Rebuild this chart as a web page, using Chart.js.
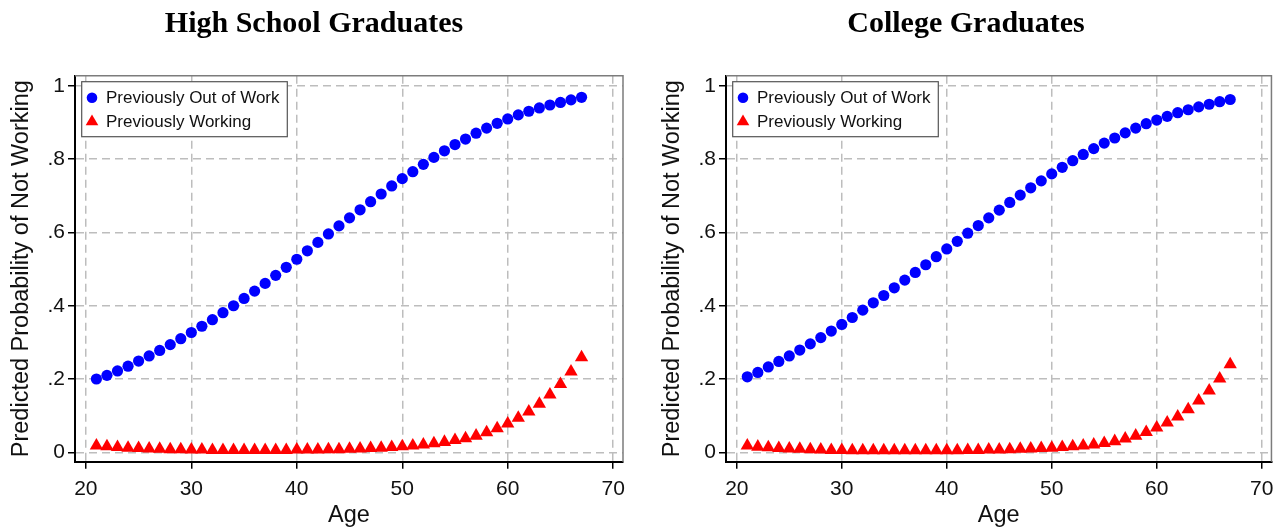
<!DOCTYPE html>
<html>
<head>
<meta charset="utf-8">
<script src="https://cdn.jsdelivr.net/npm/chart.js@4.4.1/dist/chart.umd.min.js"></script>
<style>
  html, body { margin: 0; padding: 0; background: #ffffff; }
  #wrap { position: relative; width: 1281px; height: 527px; overflow: hidden; }
  canvas { position: absolute; top: 0; }
  #hs { left: 0; }
  #col { left: 640px; }
</style>
</head>
<body>
<div id="wrap">
  <canvas id="hs" width="640" height="527"></canvas>
  <canvas id="col" width="641" height="527"></canvas>
</div>
<script>
// Age at which the prediction is evaluated
const ages = [21, 22, 23, 24, 25, 26, 27, 28, 29, 30,
              31, 32, 33, 34, 35, 36, 37, 38, 39, 40,
              41, 42, 43, 44, 45, 46, 47, 48, 49, 50,
              51, 52, 53, 54, 55, 56, 57, 58, 59, 60,
              61, 62, 63, 64, 65, 66, 67];

// High school graduates: predicted probability of not working
const hsOutOfWork = [.200, .210, .222, .235, .249, .263, .278, .294, .310, .327,
                     .344, .362, .381, .400, .420, .440, .461, .483, .505, .527,
                     .550, .573, .596, .618, .640, .662, .684, .705, .727, .747,
                     .766, .786, .805, .823, .840, .855, .871, .885, .898, .910,
                     .921, .931, .940, .948, .955, .962, .969];
const hsWorking = [.018, .016, .014, .012, .011, .010, .009, .008, .008, .007,
                   .007, .006, .006, .006, .006, .006, .006, .006, .006, .007,
                   .007, .007, .008, .008, .009, .010, .011, .012, .014, .016,
                   .018, .021, .024, .028, .033, .038, .045, .054, .065, .078,
                   .094, .111, .132, .157, .186, .220, .259];

// College graduates: predicted probability of not working
const colOutOfWork = [.206, .218, .233, .248, .263, .279, .296, .313, .331, .349,
                      .368, .388, .408, .428, .449, .470, .491, .512, .534, .555,
                      .576, .598, .619, .640, .661, .682, .702, .722, .741, .760,
                      .778, .796, .813, .829, .844, .858, .872, .885, .897, .907,
                      .917, .927, .935, .943, .950, .957, .963];
const colWorking = [.018, .015, .013, .011, .010, .009, .008, .007, .006, .006,
                    .005, .005, .005, .005, .005, .005, .005, .005, .005, .005,
                    .005, .006, .006, .007, .007, .008, .009, .010, .011, .012,
                    .014, .016, .018, .021, .025, .030, .037, .045, .055, .067,
                    .081, .097, .117, .141, .168, .201, .240];

const xTicks = [20, 30, 40, 50, 60, 70];
const yTicks = [0, 0.2, 0.4, 0.6, 0.8, 1];
const yTickLabels = ['0', '.2', '.4', '.6', '.8', '1'];
const seriesNames = ['Previously Out of Work', 'Previously Working'];
const panelTitles = ['High School Graduates', 'College Graduates'];
const xAxisTitle = 'Age';
const yAxisTitle = 'Predicted Probability of Not Working';

const SANS = "'Liberation Sans', Arial, Helvetica, sans-serif";
const SERIF = "'Liberation Serif', 'Times New Roman', serif";
const TEXT = '#111111';
const CIRCLE_R = 5.6;
const TRIANGLE_R = 7.7;

// Panel title, top/right frame and the boxed legend inside the plot region
const panelDecor = {
  id: 'panelDecor',
  beforeDatasetsDraw(chart) {
    const { ctx, chartArea: a } = chart;
    ctx.save();
    ctx.strokeStyle = '#7c7c7c';
    ctx.lineWidth = 1.5;
    ctx.beginPath();
    ctx.moveTo(a.left, a.top);
    ctx.lineTo(a.right, a.top);
    ctx.lineTo(a.right, a.bottom);
    ctx.stroke();
    ctx.restore();
  },
  afterDatasetsDraw(chart) {
    const { ctx, chartArea: a } = chart;
    const x0 = a.left + 6.7, y0 = a.top + 6, w = 205.6, h = 55;
    ctx.save();
    ctx.fillStyle = '#ffffff';
    ctx.fillRect(x0, y0, w, h);
    ctx.strokeStyle = '#555555';
    ctx.lineWidth = 1.2;
    ctx.strokeRect(x0, y0, w, h);
    chart.data.datasets.forEach((ds, i) => {
      const cx = x0 + 10.3, cy = y0 + 16 + i * 24;
      ctx.fillStyle = ds.backgroundColor;
      ctx.beginPath();
      if (ds.pointStyle === 'triangle') {
        const r = 7.3;
        ctx.moveTo(cx, cy - r);
        ctx.lineTo(cx + r * Math.sin(2 * Math.PI / 3), cy + r * 0.5);
        ctx.lineTo(cx - r * Math.sin(2 * Math.PI / 3), cy + r * 0.5);
        ctx.closePath();
      } else {
        ctx.arc(cx, cy, 5.3, 0, Math.PI * 2);
      }
      ctx.fill();
      ctx.fillStyle = TEXT;
      ctx.font = '17px ' + SANS;
      ctx.textAlign = 'left';
      ctx.textBaseline = 'middle';
      ctx.fillText(ds.label, x0 + 24.3, cy + 0.5);
    });
    ctx.restore();
  },
  afterDraw(chart, args, opts) {
    const { ctx } = chart;
    ctx.save();
    ctx.fillStyle = '#000000';
    ctx.font = 'bold 30px ' + SERIF;
    ctx.textAlign = 'center';
    ctx.textBaseline = 'alphabetic';
    ctx.fillText(opts.title, opts.titleX, 31.7);
    ctx.restore();
  }
};

function makePanel(canvasId, title, titleX, outSeries, workSeries, yAxisWidth, rightPad, yTitlePad) {
  return new Chart(document.getElementById(canvasId), {
    type: 'scatter',
    data: {
      datasets: [
        {
          label: seriesNames[0],
          data: ages.map((a, i) => ({ x: a, y: outSeries[i] })),
          pointStyle: 'circle',
          pointRadius: CIRCLE_R,
          pointHoverRadius: CIRCLE_R,
          backgroundColor: '#0000ff',
          borderColor: '#0000ff',
          borderWidth: 0
        },
        {
          label: seriesNames[1],
          data: ages.map((a, i) => ({ x: a, y: workSeries[i] })),
          pointStyle: 'triangle',
          pointRadius: TRIANGLE_R,
          pointHoverRadius: TRIANGLE_R,
          backgroundColor: '#ff0000',
          borderColor: '#ff0000',
          borderWidth: 0
        }
      ]
    },
    options: {
      responsive: false,
      animation: false,
      devicePixelRatio: 1,
      events: [],
      layout: { padding: { top: 75.7, right: rightPad, bottom: 0, left: 0 } },
      plugins: {
        legend: { display: false },
        tooltip: { enabled: false },
        panelDecor: { title: title, titleX: titleX }
      },
      scales: {
        x: {
          type: 'linear',
          position: 'bottom',
          min: 18.97,
          max: 70.93,
          afterFit(s) { s.height = 527 - 461.7; },
          afterBuildTicks(s) { s.ticks = xTicks.map(v => ({ value: v })); },
          ticks: {
            font: { family: SANS, size: 21 },
            color: TEXT,
            padding: 7.5,
            maxRotation: 0,
            autoSkip: false,
            callback: (v) => String(v)
          },
          grid: {
            color: '#bdbdbd',
            lineWidth: 1.5,
            tickColor: '#000000',
            tickLength: 7,
            tickWidth: 1.5,
            tickBorderDash: []
          },
          border: { display: true, color: '#000000', width: 2, dash: [8, 5] },
          title: {
            display: true,
            text: xAxisTitle,
            font: { family: SANS, size: 23.5, lineHeight: 1 },
            color: TEXT,
            padding: { top: 0, bottom: 0 }
          }
        },
        y: {
          type: 'linear',
          position: 'left',
          min: -0.0257,
          max: 1.028,
          afterFit(s) { s.width = yAxisWidth; },
          afterBuildTicks(s) { s.ticks = yTicks.map(v => ({ value: v })); },
          ticks: {
            font: { family: SANS, size: 21 },
            color: TEXT,
            padding: 3,
            autoSkip: false,
            callback: (v, i) => yTickLabels[i]
          },
          grid: {
            color: '#bdbdbd',
            lineWidth: 1.5,
            tickColor: '#000000',
            tickLength: 7,
            tickWidth: 1.5,
            tickBorderDash: []
          },
          border: { display: true, color: '#000000', width: 2, dash: [8, 5] },
          title: {
            display: true,
            text: yAxisTitle,
            font: { family: SANS, size: 23.5, lineHeight: 1 },
            color: TEXT,
            padding: { top: yTitlePad, bottom: 0 }
          }
        }
      }
    },
    plugins: [panelDecor]
  });
}

makePanel('hs', panelTitles[0], 314, hsOutOfWork, hsWorking, 75, 17, 10.25);
makePanel('col', panelTitles[1], 326, colOutOfWork, colWorking, 86, 6, 21.25);
</script>
</body>
</html>
